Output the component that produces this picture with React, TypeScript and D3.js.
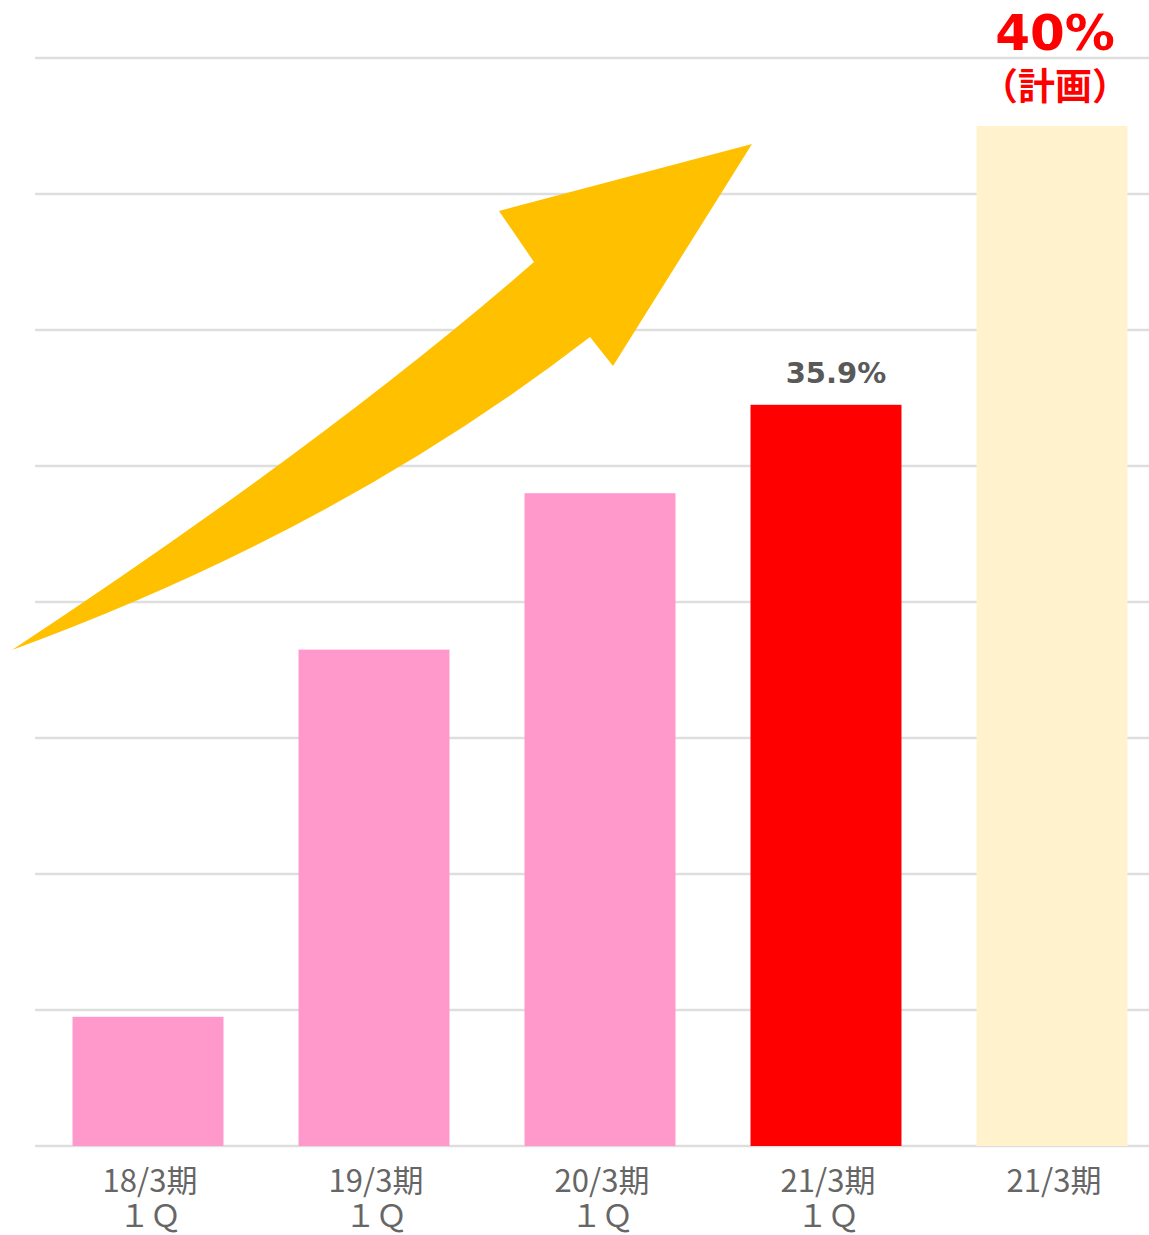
import * as d3 from "d3";
import {useEffect, useRef} from "react";

const categories = ["18/3期|１Ｑ", "19/3期|１Ｑ", "20/3期|１Ｑ", "21/3期|１Ｑ", "21/3期"];
const values = [26.9, 32.3, 34.6, 35.9, 40.0];
const barColors = ["#FF99CC", "#FF99CC", "#FF99CC", "#FF0000", "#FFF2CC"];
const gridTicks = [25, 27, 29, 31, 33, 35, 37, 39, 41];

export default function App() {
    const svgRef = useRef(null);
    const width = 1149;
    const height = 1235;

    useEffect(() => {
        if (!svgRef.current) return;
        const svg = d3.select(svgRef.current);
        svg.selectAll("*").remove();

        const x = d3.scaleBand<string>()
            .domain(categories)
            .range([35, 1165])
            .paddingInner(0.332)
            .paddingOuter(0.166);

        const y = d3.scaleLinear()
            .domain([25, 41])
            .range([1146, 58]);

        // grid lines
        svg.append("g")
            .selectAll("line")
            .data(gridTicks)
            .join("line")
            .attr("x1", 35)
            .attr("x2", width)
            .attr("y1", d => y(d))
            .attr("y2", d => y(d))
            .attr("stroke", "#dedede")
            .attr("stroke-width", 2.5);

        // bars
        svg.append("g")
            .selectAll("rect")
            .data(values)
            .join("rect")
            .attr("x", (_, i) => x(categories[i])!)
            .attr("y", d => y(d))
            .attr("width", x.bandwidth())
            .attr("height", d => y(25) - y(d))
            .attr("fill", (_, i) => barColors[i]);

        // big yellow arrow
        svg.append("path")
            .attr("d", "M12,650 Q330,440 534,262 L499,211 L752,144 L613,366 L590,337 Q340,530 12,650 Z")
            .attr("fill", "#FFC000");

        // category labels
        const labels = svg.append("g")
            .attr("font-family", "'Noto Sans CJK JP', sans-serif")
            .attr("font-size", 31)
            .attr("fill", "#666666")
            .attr("text-anchor", "middle");
        categories.forEach(c => {
            const cx = x(c)! + x.bandwidth() / 2 + 2;
            c.split("|").forEach((line, j) => {
                labels.append("text")
                    .attr("x", cx)
                    .attr("y", 1192 + j * 35)
                    .text(line);
            });
        });

        // value label for 21/3 1Q
        svg.append("text")
            .attr("x", x(categories[3])! + x.bandwidth() / 2 + 10)
            .attr("y", y(values[3]) - 22)
            .attr("text-anchor", "middle")
            .attr("font-family", "'DejaVu Sans', sans-serif")
            .attr("font-weight", "bold")
            .attr("font-size", 29)
            .attr("fill", "#595959")
            .text(`${values[3].toFixed(1)}%`);

        // plan label
        const px = x(categories[4])! + x.bandwidth() / 2 + 3;
        svg.append("text")
            .attr("x", px)
            .attr("y", 50)
            .attr("text-anchor", "middle")
            .attr("font-family", "'DejaVu Sans', sans-serif")
            .attr("font-weight", "bold")
            .attr("font-size", 50)
            .attr("fill", "#FF0000")
            .text(`${values[4].toFixed(0)}%`);
        svg.append("text")
            .attr("x", px)
            .attr("y", 100)
            .attr("text-anchor", "middle")
            .attr("font-family", "'Noto Sans CJK JP', sans-serif")
            .attr("font-weight", "bold")
            .attr("font-size", 37)
            .attr("fill", "#FF0000")
            .text("（計画）");
    }, []);

    return (
        <svg ref={svgRef} width={width} height={height}
             style={{position: "absolute", left: 0, top: 0, background: "#ffffff"}}></svg>
    );
}
